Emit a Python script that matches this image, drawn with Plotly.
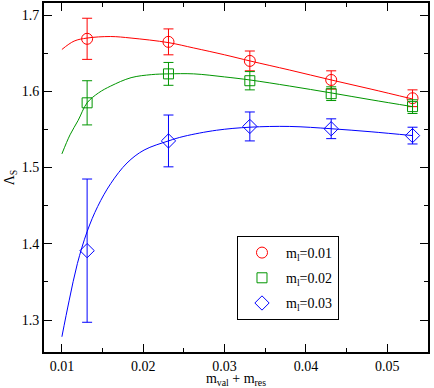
import plotly.graph_objects as go

# measured points (x = m_val + m_res)
x_vals = [0.0131, 0.0231, 0.0331, 0.0431, 0.0531]

red_y = [1.669, 1.665, 1.640, 1.615, 1.591]
red_err = [0.027, 0.017, 0.013, 0.012, 0.011]
green_y = [1.585, 1.623, 1.614, 1.597, 1.580]
green_err = [0.029, 0.015, 0.012, 0.009, 0.009]
blue_y = [1.391, 1.535, 1.554, 1.551, 1.542]
blue_err = [0.094, 0.034, 0.019, 0.013, 0.011]

# fit curves
red_fit_x = [0.0100, 0.0115, 0.0131, 0.0160, 0.0185, 0.0231, 0.0262, 0.0300, 0.0331, 0.0380, 0.0431, 0.0480, 0.0531]
red_fit_y = [1.655, 1.666, 1.670, 1.672, 1.670, 1.664, 1.657, 1.648, 1.640, 1.628, 1.615, 1.603, 1.590]

green_fit_x = [0.0100, 0.0110, 0.0120, 0.0131, 0.0145, 0.0160, 0.0185, 0.0210, 0.0231, 0.0262, 0.0300,
               0.0331, 0.0380, 0.0431, 0.0480, 0.0531]
green_fit_y = [1.518, 1.543, 1.562, 1.585, 1.598, 1.607, 1.618, 1.622, 1.623, 1.623, 1.619,
               1.615, 1.607, 1.598, 1.589, 1.580]

blue_fit_x = [0.0100, 0.0109, 0.0119, 0.0131, 0.0144, 0.0160, 0.0180, 0.0201, 0.0231, 0.0250, 0.0290,
              0.0331, 0.0380, 0.0431, 0.0480, 0.0531]
blue_fit_y = [1.278, 1.326, 1.374, 1.416, 1.449, 1.479, 1.506, 1.523, 1.535, 1.541, 1.549,
              1.553, 1.554, 1.551, 1.547, 1.542]

series = [
    ('m<sub>l</sub>=0.01', red_y, red_err, red_fit_x, red_fit_y, 'rgb(255,0,0)', 'circle-open', 11),
    ('m<sub>l</sub>=0.02', green_y, green_err, green_fit_x, green_fit_y, 'rgb(0,150,0)', 'square-open', 10),
    ('m<sub>l</sub>=0.03', blue_y, blue_err, blue_fit_x, blue_fit_y, 'rgb(0,0,255)', 'diamond-open', 11),
]

font_family = 'Liberation Serif, Times New Roman, serif'

fig = go.Figure()

for i, (name, y, err, fx, fy, color, symbol, size) in enumerate(series):
    fig.add_trace(go.Scatter(x=fx, y=fy, mode='lines', line=dict(color=color, width=1, shape='spline'),
                             showlegend=False, hoverinfo='skip'))
    # own legend group per series so tracegroupgap spaces the legend rows
    fig.add_trace(go.Scatter(x=x_vals, y=y, mode='markers', name=name, legendgroup='g%d' % i,
                             marker=dict(symbol=symbol, size=size, color=color, line=dict(color=color, width=1)),
                             error_y=dict(type='data', array=err, color=color, thickness=1, width=5)))

axis_common = dict(showline=True, linecolor='black', linewidth=2, mirror='allticks',
                   ticks='inside', ticklen=8, tickwidth=1, tickcolor='black',
                   showgrid=False, zeroline=False, automargin=False,
                   tickfont=dict(family=font_family, size=14, color='black'))

fig.update_layout(
    template='none',
    width=434, height=388,
    margin=dict(l=44, r=6, t=3, b=36),
    plot_bgcolor='white', paper_bgcolor='white',
    font=dict(family=font_family, color='black'),
    xaxis=dict(range=[0.0078, 0.0550], dtick=0.01, tick0=0.01,
               minor=dict(dtick=0.005, ticks='inside', ticklen=4, tickcolor='black'),
               title=dict(text='m<sub>val</sub> + m<sub>res</sub>', font=dict(size=14), standoff=0),
               **axis_common),
    yaxis=dict(range=[1.258, 1.716], dtick=0.1, tick0=1.3,
               minor=dict(dtick=0.05, ticks='inside', ticklen=4, tickcolor='black'),
               title=dict(text='Λ<sub>S</sub>', font=dict(size=14), standoff=4),
               **axis_common),
    legend=dict(x=0.5026, y=0.3324, xanchor='left', yanchor='top',
                bgcolor='white', bordercolor='black', borderwidth=1,
                itemwidth=38, tracegroupgap=4,
                font=dict(family=font_family, size=14, color='black')),
)

# drop the browser's default page margin so the figure sits at the window corner
fig.write_html("out.html", config={'displayModeBar': False},
               post_script="document.body.style.margin='0';")
